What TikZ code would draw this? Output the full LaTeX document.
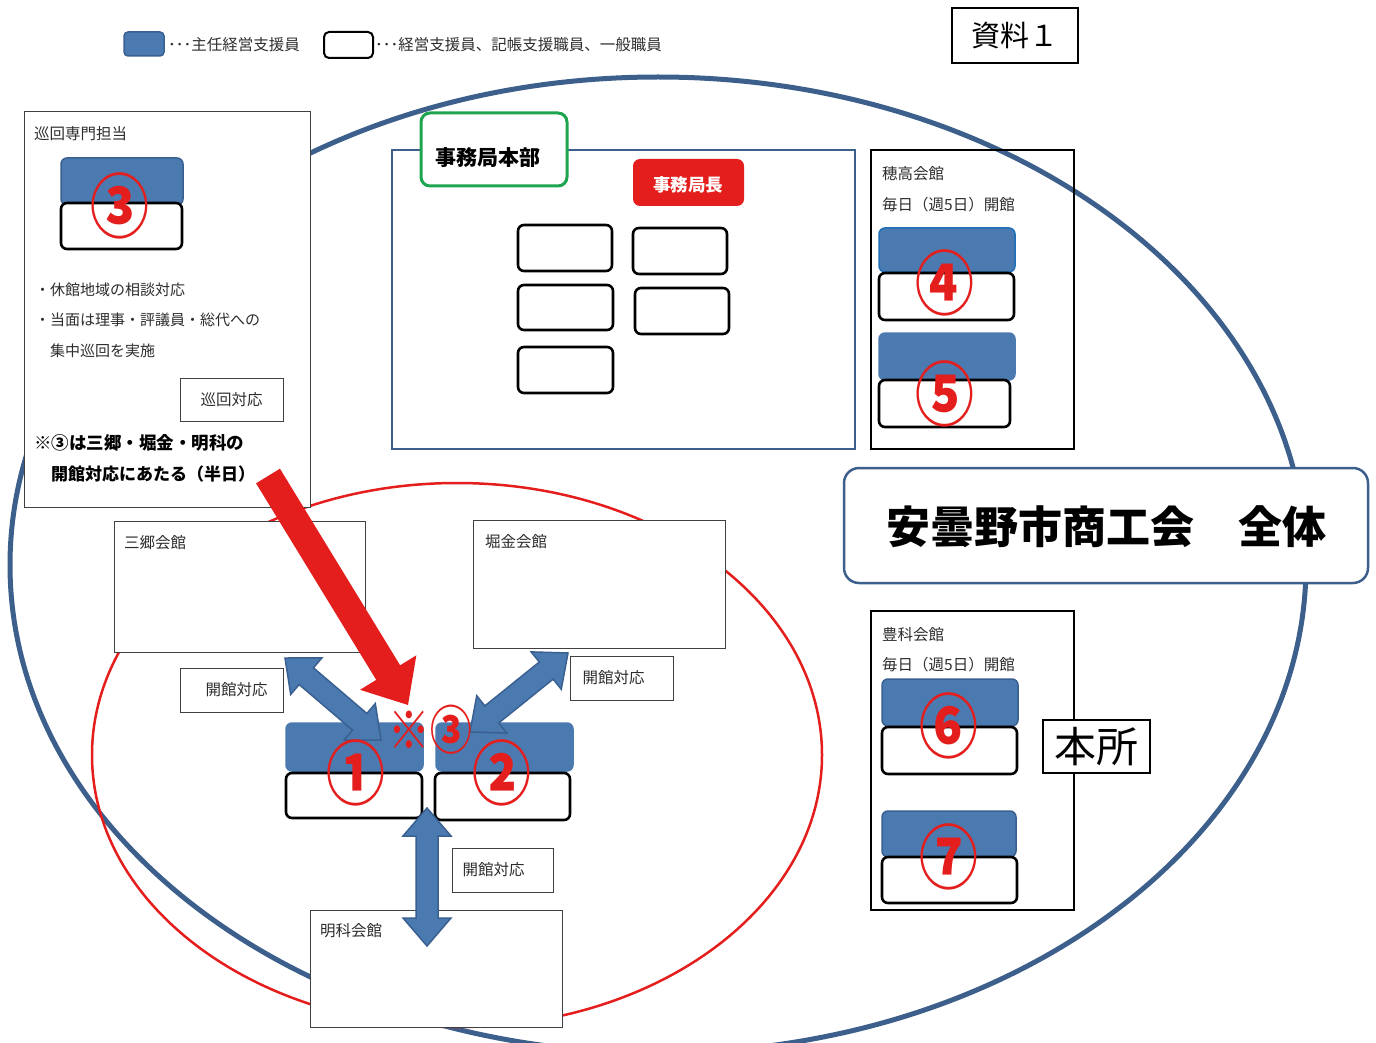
\documentclass[tikz,border=0pt]{standalone}
\usepackage{fontspec}
\usepackage{graphicx}
\setmainfont{Noto Sans CJK JP}
\usetikzlibrary{calc,fit}
\newcommand\fs[1]{\fontsize{#1}{#1}\selectfont}
\newcommand\cn[1]{\scalebox{0.84}[1]{\fs{70}\bfseries #1}}
\definecolor{ellblue}{RGB}{60,95,140}
\definecolor{sblue}{RGB}{75,122,176}
\definecolor{sblueD}{RGB}{58,96,145}
\definecolor{rred}{RGB}{228,30,28}
\definecolor{ggreen}{RGB}{30,165,80}
\definecolor{tgray}{RGB}{45,45,45}
\newcommand\dblarrow[3]{%
  \coordinate (da-p) at ($(#2)!28pt!(#3)$);
  \coordinate (da-q) at ($(#3)!28pt!(#2)$);
  \filldraw[#1] (#2) -- ($(da-p)!24pt!90:(#3)$) -- ($(da-p)!11pt!90:(#3)$)
    -- ($(da-q)!11pt!-90:(#2)$) -- ($(da-q)!24pt!-90:(#2)$) -- (#3)
    -- ($(da-q)!24pt!90:(#2)$) -- ($(da-q)!11pt!90:(#2)$)
    -- ($(da-p)!11pt!-90:(#3)$) -- ($(da-p)!24pt!-90:(#3)$) -- cycle;}
\newcommand\sglarrow[3]{%
  \coordinate (sa-q) at ($(#3)!38pt!(#2)$);
  \fill[#1] (#2) -- ($(#2)!14pt!90:(#3)$) -- ($(sa-q)!14pt!-90:(#2)$)
    -- ($(sa-q)!33pt!-90:(#2)$) -- (#3) -- ($(sa-q)!33pt!90:(#2)$)
    -- ($(sa-q)!14pt!90:(#2)$) -- ($(#2)!14pt!-90:(#3)$) -- cycle;}
\begin{document}
\begin{tikzpicture}[x=1pt,y=-1pt,
  lbl/.style={anchor=west,inner sep=0pt,text=tgray,font=\fs{15.5}},
  boldlbl/.style={anchor=west,inner sep=0pt,text=black,font=\fs{17.5}\bfseries},
  hallbox/.style={draw=black!75,line width=1pt,fill=white,inner sep=0pt},
  tagbox/.style={draw=black!75,line width=1pt,fill=white,inner sep=0pt,text=tgray,font=\fs{15.5}},
  stblue/.style={fill=sblue,draw=sblueD,line width=1.5pt,rounded corners=6pt,inner sep=0pt},
  stwhite/.style={fill=white,draw=black,line width=2.6pt,rounded corners=6pt,inner sep=0pt},
  blkbox/.style={draw=black,line width=2.5pt,inner sep=0pt},
  cnum/.style={text=rred,inner sep=0pt},
  barrow/.style={fill=sblue,draw=sblueD,line width=1.5pt,line join=miter},
  rarrow/.style={fill=rred}]
\useasboundingbox (0,0) rectangle (1376,1043);
\clip (0,0) rectangle (1376,1043);

% legend
\node[fit={(124,32)(164,56)},stblue,rounded corners=4pt] (legb) {};
\node[lbl] (legbt) at (168,45) {･･･主任経営支援員};
\node[fit={(324,32)(373,58)},stwhite,line width=2pt,rounded corners=5pt] (legw) {};
\node[lbl] (legwt) at (375,45) {･･･経営支援員、記帳支援職員、一般職員};
\node[draw=black,line width=1.2pt,fit={(952,8)(1078,63)},inner sep=0pt] (shiryo) {};
\node[font=\fs{29},inner sep=0pt] at (shiryo.center) {資料１};

% outer ellipses
\draw[ellblue,line width=5pt] (658,565) ellipse [x radius=648pt,y radius=488pt];
\draw[rred,line width=2.5pt] (457,755) ellipse [x radius=365pt,y radius=272pt];

% junkai box
\node[fit={(24,112)(310,507)},hallbox] (junkai) {};
\node[lbl] at (34,134) {巡回専門担当};
\node[fit={(61,158)(183,205)},stblue] (b3) {};
\node[fit={(61,203)(182,249)},stwhite] (w3) {};
\node[cnum] (c3) at (120,206) {\cn{③}};
\node[lbl,font=\fs{15}] at (35,290) {・休館地域の相談対応};
\node[lbl,font=\fs{15}] at (35,320) {・当面は理事・評議員・総代への};
\node[lbl,font=\fs{15}] at (50,351) {集中巡回を実施};
\node[fit={(180,378)(283,421)},tagbox] (tagj) {};
\node[text=tgray,font=\fs{15.5},inner sep=0pt] at (tagj.center) {巡回対応};
\node[boldlbl] at (34,443) {※③は三郷・堀金・明科の};
\node[boldlbl,font=\fs{17}\bfseries] at (51,474) {開館対応にあたる（半日）};

% jimukyoku
\node[fit={(392,150)(855,449)},draw=ellblue,line width=2.5pt,fill=white,inner sep=0pt] (jim) {};
\node[fit={(421,113)(567,186)},draw=ggreen,line width=3pt,fill=white,rounded corners=9pt,inner sep=0pt] (honbu) {};
\node[font=\fs{21}\bfseries,inner sep=0pt] at (488,158) {事務局本部};
\node[fit={(633,159)(744,206)},fill=rred,rounded corners=7pt,inner sep=0pt] (kyokucho) {};
\node[font=\fs{17.5}\bfseries,text=white,inner sep=0pt] at (688,185) {事務局長};
\node[fit={(518,225)(612,271)},stwhite] (j1) {};
\node[fit={(633,228)(727,274)},stwhite] (j2) {};
\node[fit={(518,285)(613,330)},stwhite] (j3) {};
\node[fit={(635,288)(729,334)},stwhite] (j4) {};
\node[fit={(518,347)(613,393)},stwhite] (j5) {};

% hotaka
\node[fit={(871,150)(1074,449)},blkbox] (hotaka) {};
\node[lbl] at (882,174) {穂高会館};
\node[lbl] at (882,205) {毎日（週5日）開館};
\node[fit={(879,228)(1015,272)},stblue,draw={rgb,255:red,30;green,110;blue,185}] (b4) {};
\node[fit={(879,273)(1014,320)},stwhite] (w4) {};
\node[cnum] (c4) at (945,283) {\cn{④}};
\node[fit={(879,333)(1015,380)},stblue,draw=sblue] (b5) {};
\node[fit={(879,380)(1010,427)},stwhite] (w5) {};
\node[cnum] (c5) at (945,394) {\cn{⑤}};

% whole
\node[fit={(844,468)(1368,583)},draw=ellblue,line width=2.5pt,fill=white,rounded corners=15pt,inner sep=0pt] (zentai) {};
\node[font=\fs{44}\bfseries,inner sep=0pt] at (1106,527) {安曇野市商工会　全体};

% toyoshina
\node[fit={(871,611)(1074,910)},blkbox] (toyo) {};
\node[lbl] at (882,635) {豊科会館};
\node[lbl] at (882,665) {毎日（週5日）開館};
\node[fit={(882,679)(1018,726)},stblue] (b6) {};
\node[fit={(882,727)(1017,774)},stwhite] (w6) {};
\node[cnum] (c6) at (949,726) {\cn{⑥}};
\node[fit={(882,811)(1016,857)},stblue] (b7) {};
\node[fit={(882,857)(1017,903)},stwhite] (w7) {};
\node[cnum] (c7) at (949,857) {\cn{⑦}};
\node[fit={(1043,720)(1150,773)},draw=black,line width=1.2pt,fill=white,inner sep=0pt] (honsho) {};
\node[font=\fs{42},inner sep=0pt] at (honsho.center) {本所};

% halls
\node[fit={(114,521)(365,652)},hallbox] (sango) {};
\node[lbl] at (124,543) {三郷会館};
\node[fit={(473,520)(725,648)},hallbox] (horigane) {};
\node[lbl] at (485,542) {堀金会館};
\node[fit={(310,910)(562,1027)},hallbox] (akashina) {};
\node[lbl] at (320,931) {明科会館};
\node[fit={(180,668)(283,712)},tagbox] (tag1) {};
\node[text=tgray,font=\fs{15.5},inner sep=0pt] at ([xshift=5pt]tag1.center) {開館対応};
\node[fit={(570,656)(673,700)},tagbox] (tag2) {};
\node[text=tgray,font=\fs{15.5},inner sep=0pt] at ([xshift=-8pt]tag2.center) {開館対応};
\node[fit={(452,848)(553,892)},tagbox] (tag3) {};
\node[text=tgray,font=\fs{15.5},inner sep=0pt] at ([xshift=-9pt]tag3.center) {開館対応};

% staff 1 and 2
\node[fit={(286,723)(423,771)},stblue,draw=sblue] (b1) {};
\node[fit={(286,773)(422,818)},stwhite] (w1) {};
\node[fit={(436,723)(573,771)},stblue,draw=sblue] (b2) {};
\node[fit={(435,773)(570,820)},stwhite] (w2) {};

% arrows
\coordinate (a1s) at (285,658);
\coordinate (a1e) at (381,740);
\coordinate (a2s) at (568,653);
\coordinate (a2e) at (470,732);
\coordinate (a3s) at (427,808);
\coordinate (a3e) at (427,946);
\dblarrow{barrow}{a1s}{a1e}
\dblarrow{barrow}{a2s}{a2e}
\dblarrow{barrow}{a3s}{a3e}
\coordinate (rs) at (268,476);
\coordinate (re) at (408,705);
\sglarrow{rarrow}{rs}{re}

\node[cnum] (c1) at (356,773) {\cn{①}};
\node[cnum] (c2) at (502,773) {\cn{②}};
\node[cnum,anchor=center] (k3) at (430,730) {\scalebox{0.8}[1]{\fs{52}※\bfseries ③}};
\end{tikzpicture}
\end{document}
